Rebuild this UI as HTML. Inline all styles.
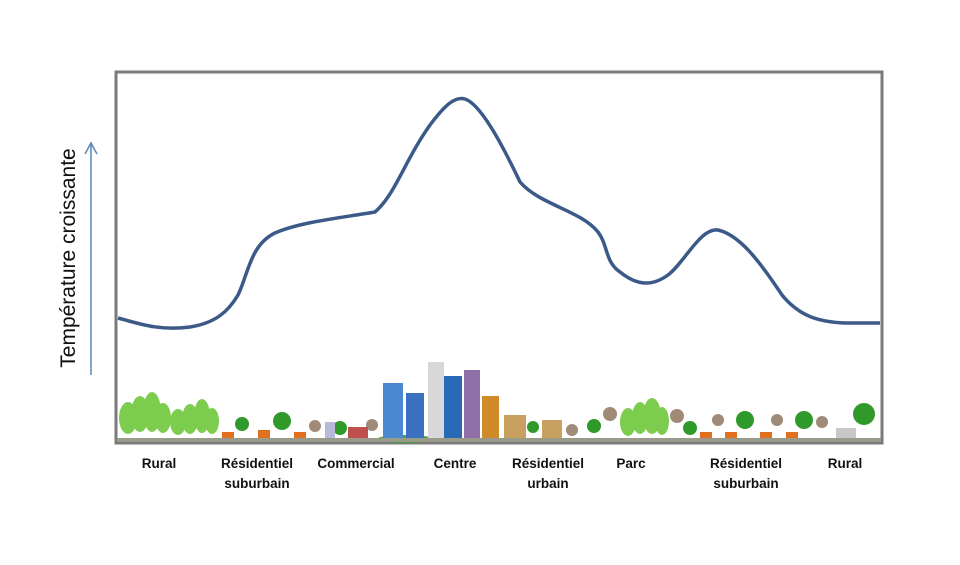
<!DOCTYPE html>
<html><head><style>
body{margin:0;background:#fff;width:960px;height:560px;overflow:hidden}
</style></head><body>
<svg width="960" height="560" viewBox="0 0 960 560" xmlns="http://www.w3.org/2000/svg" font-family="Liberation Sans, sans-serif">
<rect x="116" y="72" width="766" height="371" fill="#fff" stroke="#7a7a7a" stroke-width="3"/>
<path d="M118,318 C140,324 160,331 190,327 C215,323 228,312 238,295 C248,275 250,245 275,233 C300,222 340,218 375,212 C395,195 405,160 430,125 C445,105 455,96 465,99 C480,104 500,140 520,182 C540,205 580,210 598,232 C608,245 605,262 620,272 C635,284 650,288 668,275 C685,262 700,228 718,230 C740,235 760,262 782,295 C800,317 820,322 845,323 L880,323" fill="none" stroke="#3c5a88" stroke-width="3.5"/>
<text transform="translate(75,258) rotate(-90)" text-anchor="middle" font-size="21" fill="#111">Température croissante</text>
<line x1="91" y1="375" x2="91" y2="144" stroke="#5a86b8" stroke-width="1.5"/>
<path d="M85,154 L91,143 L97,154" fill="none" stroke="#5a86b8" stroke-width="1.5"/>
<g>
<!-- rural trees -->
<g fill="#7ccc4e">
<ellipse cx="128" cy="418" rx="9" ry="16"/><ellipse cx="140" cy="414" rx="9" ry="18"/><ellipse cx="152" cy="412" rx="9" ry="20"/><ellipse cx="163" cy="418" rx="8" ry="15"/>
<ellipse cx="178" cy="422" rx="8" ry="13"/><ellipse cx="190" cy="419" rx="8" ry="15"/><ellipse cx="202" cy="416" rx="8" ry="17"/><ellipse cx="212" cy="421" rx="7" ry="13"/>
<ellipse cx="628" cy="422" rx="8" ry="14"/><ellipse cx="640" cy="418" rx="8" ry="16"/><ellipse cx="652" cy="416" rx="9" ry="18"/><ellipse cx="662" cy="421" rx="7" ry="14"/>
</g>
<g fill="#2f9a2a">
<circle cx="242" cy="424" r="7"/><circle cx="282" cy="421" r="9"/><circle cx="340" cy="428" r="7"/><circle cx="533" cy="427" r="6"/><circle cx="594" cy="426" r="7"/>
<circle cx="690" cy="428" r="7"/><circle cx="745" cy="420" r="9"/><circle cx="804" cy="420" r="9"/><circle cx="864" cy="414" r="11"/>
</g>
<g fill="#a08a78"><circle cx="315" cy="426" r="6"/><circle cx="372" cy="425" r="6"/><circle cx="572" cy="430" r="6"/><circle cx="610" cy="414" r="7"/><circle cx="677" cy="416" r="7"/><circle cx="718" cy="420" r="6"/><circle cx="777" cy="420" r="6"/><circle cx="822" cy="422" r="6"/></g>
<g fill="#e07020"><rect x="222" y="432" width="12" height="8"/><rect x="258" y="430" width="12" height="9"/><rect x="294" y="432" width="12" height="8"/><rect x="700" y="432" width="12" height="8"/><rect x="725" y="432" width="12" height="8"/><rect x="760" y="432" width="12" height="8"/><rect x="786" y="432" width="12" height="8"/></g>
<!-- buildings -->
<rect x="325" y="422" width="10" height="18" fill="#b8b8d8"/>
<rect x="348" y="427" width="20" height="13" fill="#c05050"/>
<ellipse cx="405" cy="439" rx="28" ry="4" fill="#4aa03a"/>
<rect x="383" y="383" width="20" height="55" fill="#4a88d0"/>
<rect x="406" y="393" width="18" height="45" fill="#3a70c0"/>
<rect x="428" y="362" width="16" height="78" fill="#d8d8d8"/>
<rect x="444" y="376" width="18" height="64" fill="#2a68b8"/>
<rect x="464" y="370" width="16" height="70" fill="#9070a8"/>
<rect x="482" y="396" width="17" height="44" fill="#d08a28"/>
<rect x="504" y="415" width="22" height="25" fill="#c8a060"/>
<rect x="542" y="420" width="20" height="20" fill="#c8a060"/>
<rect x="836" y="428" width="20" height="12" fill="#c8c8c8"/>
</g>
<rect x="117" y="438" width="764" height="4" fill="#9a9a8a"/>
<g font-size="13.5" font-weight="bold" fill="#111" text-anchor="middle">
<text x="159" y="468">Rural</text>
<text x="257" y="468">Résidentiel</text><text x="257" y="488">suburbain</text>
<text x="356" y="468">Commercial</text>
<text x="455" y="468">Centre</text>
<text x="548" y="468">Résidentiel</text><text x="548" y="488">urbain</text>
<text x="631" y="468">Parc</text>
<text x="746" y="468">Résidentiel</text><text x="746" y="488">suburbain</text>
<text x="845" y="468">Rural</text>
</g>
</svg>
</body></html>
